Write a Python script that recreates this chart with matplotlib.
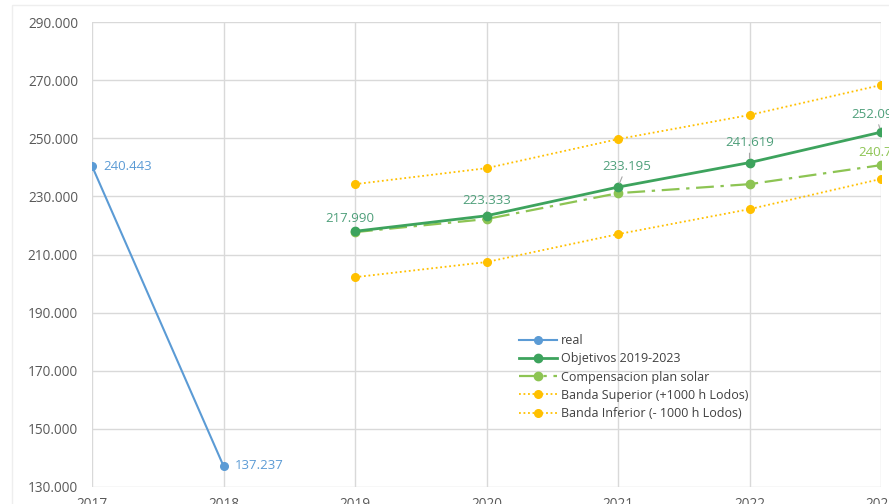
import matplotlib
matplotlib.use("Agg")
import matplotlib.pyplot as plt
from matplotlib.lines import Line2D
from matplotlib.patches import Rectangle

plt.rcParams['font.family'] = ['Open Sans', 'DejaVu Sans']

years_real = [2017, 2018]
real = [240.443, 137.237]

years_plan = [2019, 2020, 2021, 2022, 2023]
objetivos = [217.990, 223.333, 233.195, 241.619, 252.093]
compensacion = [217.7, 222.2, 231.1, 234.2, 240.75]
banda_sup = [234.2, 239.7, 249.7, 258.0, 268.3]
banda_inf = [202.2, 207.4, 217.0, 225.6, 236.0]

yticks = [130, 150, 170, 190, 210, 230, 250, 270, 290]
xticks = [2017, 2018, 2019, 2020, 2021, 2022, 2023]

C_REAL = '#5B9BD5'
C_OBJ = '#3DA35D'
C_OBJ_TXT = '#4E9F7A'
C_COMP = '#8DC453'
C_BAND = '#FFC000'

W, H = 889, 504
fig = plt.figure(figsize=(W / 100, H / 100), dpi=100)

# faint chart-area frame
fig.patches.append(Rectangle((12 / W, -0.1), 1.2, 1 - 5 / H + 0.1, transform=fig.transFigure,
                             fill=False, edgecolor='#EEEEEE', lw=1.0))

ax = fig.add_axes([92 / W, (H - 487) / H, (881 - 92) / W, (487 - 22) / H])

ax.plot(years_real, real, color=C_REAL, lw=1.5, marker='o', ms=5.5, zorder=4)
ax.plot(years_plan, banda_sup, color=C_BAND, lw=1.3, ls=(0, (1, 1.5)),
        marker='o', ms=5.5, zorder=3)
ax.plot(years_plan, banda_inf, color=C_BAND, lw=1.3, ls=(0, (1, 1.5)),
        marker='o', ms=5.5, zorder=3)
ax.plot(years_plan, compensacion, color=C_COMP, lw=1.6, ls=(0, (8, 3, 1.5, 3)),
        marker='o', ms=6, zorder=4)
ax.plot(years_plan, objetivos, color=C_OBJ, lw=2.0, marker='o', ms=6, zorder=5)

ax.set_xlim(2017, 2023)
ax.set_ylim(130, 290)
ax.set_xticks(xticks)
ax.set_yticks(yticks)
ax.set_yticklabels([f"{v}.000" for v in yticks])
ax.set_xticklabels([str(v) for v in xticks])
ax.grid(True, color='#D9D9D9', lw=1.0)
for s in ax.spines.values():
    s.set_visible(False)
ax.tick_params(length=0, labelsize=9.8, colors='#595959')
ax.tick_params(axis='y', pad=10)
ax.tick_params(axis='x', pad=7)

# value labels for the actual series
for x, v in zip(years_real, real):
    ax.annotate(f"{v:.3f}", (x, v), xytext=(8, 0), textcoords='offset points',
                color=C_REAL, fontsize=9.5, va='center', ha='left', annotation_clip=False)

# value labels for the targets, with short leader lines
obj_offsets = [(-4, 9.5), (0, 11), (6, 15), (0, 14.5), (-4, 13)]
obj_leader = [False, True, True, True, True]
for x, v, (dx, dy), lead_on in zip(years_plan, objetivos, obj_offsets, obj_leader):
    lead = dict(arrowstyle='-', color='#A6A6A6', lw=0.8, shrinkA=1, shrinkB=3) if lead_on else None
    ax.annotate(f"{v:.3f}", (x, v), xytext=(dx, dy), textcoords='offset points',
                color=C_OBJ_TXT, fontsize=9.5, va='center', ha='center',
                arrowprops=lead, annotation_clip=False, zorder=6)

ax.annotate(f"{compensacion[-1]:.3f}", (years_plan[-1], compensacion[-1]),
            xytext=(-16, 9.4), textcoords='offset points', color=C_COMP,
            fontsize=9.5, va='center', ha='left', annotation_clip=False)

handles = [
    Line2D([], [], color=C_REAL, lw=1.5, marker='o', ms=5.5),
    Line2D([], [], color=C_OBJ, lw=2.0, marker='o', ms=6),
    Line2D([], [], color=C_COMP, lw=1.6, ls=(0, (8, 3, 1.5, 3)), marker='o', ms=6),
    Line2D([], [], color=C_BAND, lw=1.3, ls=(0, (1, 1.5)), marker='o', ms=5.5),
    Line2D([], [], color=C_BAND, lw=1.3, ls=(0, (1, 1.5)), marker='o', ms=5.5),
]
labels = ['real', 'Objetivos 2019-2023', 'Compensacion plan solar',
          'Banda Superior (+1000 h Lodos)', 'Banda Inferior (- 1000 h Lodos)']
leg = ax.legend(handles, labels, loc='upper left', bbox_to_anchor=(519 / W, (H - 334) / H),
                bbox_transform=fig.transFigure, frameon=False, fontsize=9,
                handlelength=3.0, handletextpad=0.35, labelspacing=0.42,
                borderpad=0, borderaxespad=0)
for t in leg.get_texts():
    t.set_color('#404040')

fig.savefig('out.png', dpi=100)
